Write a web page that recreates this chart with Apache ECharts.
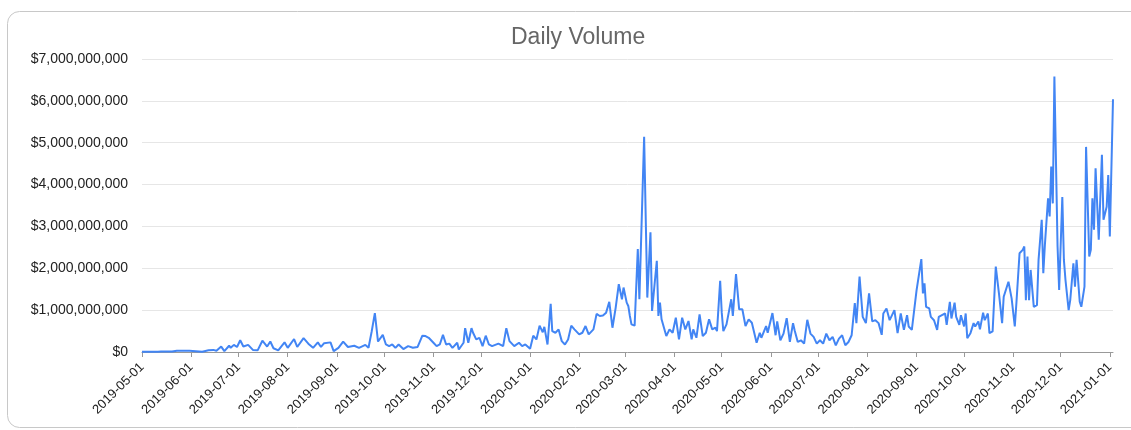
<!DOCTYPE html>
<html><head><meta charset="utf-8">
<script src="https://cdn.jsdelivr.net/npm/echarts@6/dist/echarts.min.js"></script>
<style>html,body{margin:0;padding:0;background:#fff}#c{width:1131px;height:430px}</style>
</head><body><div id="c"></div>
<script>
const dates = [
'2019-05-01','2019-05-11','2019-05-12','2019-05-13','2019-05-18','2019-05-19','2019-05-20','2019-05-23','2019-05-24','2019-05-26',
'2019-05-27','2019-05-29','2019-05-30','2019-05-31','2019-06-01','2019-06-08','2019-06-09','2019-06-12','2019-06-15','2019-06-17',
'2019-06-20','2019-06-22','2019-06-25','2019-06-26','2019-06-28','2019-06-30','2019-07-02','2019-07-04','2019-07-07','2019-07-10',
'2019-07-13','2019-07-16','2019-07-19','2019-07-21','2019-07-23','2019-07-26','2019-07-30','2019-08-01','2019-08-05','2019-08-07',
'2019-08-11','2019-08-14','2019-08-17','2019-08-20','2019-08-22','2019-08-24','2019-08-28','2019-08-30','2019-09-02','2019-09-05',
'2019-09-08','2019-09-12','2019-09-15','2019-09-19','2019-09-21','2019-09-23','2019-09-25','2019-09-27','2019-09-30','2019-10-02',
'2019-10-04','2019-10-06','2019-10-08','2019-10-10','2019-10-13','2019-10-16','2019-10-19','2019-10-22','2019-10-25','2019-10-27',
'2019-10-29','2019-11-01','2019-11-03','2019-11-05','2019-11-07','2019-11-09','2019-11-11','2019-11-13','2019-11-16','2019-11-17',
'2019-11-20','2019-11-21','2019-11-23','2019-11-25','2019-11-26','2019-11-28','2019-11-30','2019-12-02','2019-12-04','2019-12-06',
'2019-12-08','2019-12-12','2019-12-15','2019-12-17','2019-12-19','2019-12-22','2019-12-25','2019-12-27','2019-12-29','2020-01-01',
'2020-01-03','2020-01-05','2020-01-07','2020-01-09','2020-01-10','2020-01-12','2020-01-14','2020-01-15','2020-01-17','2020-01-19',
'2020-01-21','2020-01-23','2020-01-25','2020-01-27','2020-01-29','2020-02-01','2020-02-03','2020-02-05','2020-02-07','2020-02-10',
'2020-02-12','2020-02-14','2020-02-16','2020-02-18','2020-02-20','2020-02-22','2020-02-24','2020-02-25','2020-02-26','2020-02-28',
'2020-02-29','2020-03-01','2020-03-02','2020-03-03','2020-03-04','2020-03-05','2020-03-07','2020-03-09','2020-03-10','2020-03-13',
'2020-03-15','2020-03-17','2020-03-18','2020-03-21','2020-03-22','2020-03-23','2020-03-24','2020-03-27','2020-03-29','2020-03-31',
'2020-04-02','2020-04-04','2020-04-06','2020-04-08','2020-04-10','2020-04-12','2020-04-13','2020-04-15','2020-04-17','2020-04-19',
'2020-04-21','2020-04-23','2020-04-25','2020-04-27','2020-04-28','2020-04-30','2020-05-01','2020-05-02','2020-05-04','2020-05-07',
'2020-05-08','2020-05-10','2020-05-12','2020-05-14','2020-05-16','2020-05-18','2020-05-20','2020-05-23','2020-05-25','2020-05-26',
'2020-05-29','2020-05-30','2020-06-02','2020-06-04','2020-06-05','2020-06-07','2020-06-09','2020-06-11','2020-06-13','2020-06-15',
'2020-06-16','2020-06-18','2020-06-20','2020-06-22','2020-06-24','2020-06-26','2020-06-28','2020-06-30','2020-07-02','2020-07-04',
'2020-07-06','2020-07-08','2020-07-10','2020-07-12','2020-07-14','2020-07-16','2020-07-18','2020-07-20','2020-07-22','2020-07-24',
'2020-07-25','2020-07-27','2020-07-29','2020-07-31','2020-08-02','2020-08-04','2020-08-06','2020-08-08','2020-08-10','2020-08-11',
'2020-08-13','2020-08-15','2020-08-18','2020-08-20','2020-08-22','2020-08-24','2020-08-26','2020-08-27','2020-08-29','2020-09-01',
'2020-09-02','2020-09-04','2020-09-05','2020-09-06','2020-09-07','2020-09-09','2020-09-10','2020-09-12','2020-09-14','2020-09-15',
'2020-09-17','2020-09-19','2020-09-20','2020-09-22','2020-09-23','2020-09-25','2020-09-26','2020-09-28','2020-09-29','2020-10-01',
'2020-10-02','2020-10-03','2020-10-05','2020-10-07','2020-10-08','2020-10-10','2020-10-11','2020-10-13','2020-10-14','2020-10-16',
'2020-10-17','2020-10-19','2020-10-21','2020-10-23','2020-10-25','2020-10-26','2020-10-29','2020-10-31','2020-11-02','2020-11-03',
'2020-11-05','2020-11-07','2020-11-08','2020-11-09','2020-11-10','2020-11-11','2020-11-12','2020-11-14','2020-11-16','2020-11-17',
'2020-11-19','2020-11-20','2020-11-21','2020-11-23','2020-11-24','2020-11-25','2020-11-26','2020-11-27','2020-11-29','2020-11-30',
'2020-12-01','2020-12-02','2020-12-03','2020-12-04','2020-12-06','2020-12-07','2020-12-09','2020-12-10','2020-12-11','2020-12-13',
'2020-12-14','2020-12-16','2020-12-17','2020-12-19','2020-12-20','2020-12-21','2020-12-22','2020-12-23','2020-12-25','2020-12-26',
'2020-12-27','2020-12-28','2020-12-30','2020-12-31','2021-01-01','2021-01-03'
];
const volumesBillion = [
0.005,0.005,0.03,0.01,0.01,0.03,0.01,0.03,0.01,0.03,
0.01,0.03,0.01,0.03,0.005,0.005,0.05,0.04,0.05,0.03,
0.13,0.02,0.15,0.10,0.17,0.12,0.28,0.13,0.17,0.05,
0.04,0.27,0.13,0.25,0.09,0.04,0.23,0.10,0.31,0.12,
0.33,0.20,0.10,0.23,0.12,0.21,0.23,0.02,0.10,0.25,
0.12,0.15,0.10,0.17,0.10,0.49,0.93,0.25,0.41,0.18,
0.14,0.18,0.10,0.18,0.07,0.14,0.10,0.12,0.39,0.38,
0.34,0.22,0.14,0.18,0.41,0.18,0.20,0.10,0.22,0.06,
0.22,0.57,0.22,0.57,0.46,0.30,0.34,0.14,0.39,0.18,
0.14,0.20,0.14,0.57,0.26,0.14,0.22,0.14,0.18,0.08,
0.39,0.30,0.63,0.47,0.60,0.18,1.15,0.50,0.46,0.54,
0.26,0.18,0.30,0.63,0.54,0.42,0.46,0.62,0.42,0.54,
0.91,0.86,0.87,0.94,1.20,0.58,1.05,1.02,1.62,1.26,
1.54,1.58,1.18,1.10,0.86,0.66,0.63,2.46,1.26,5.14,
1.30,2.86,0.98,2.18,0.86,1.18,0.78,0.38,0.54,0.46,
0.82,0.30,0.82,0.54,0.74,0.30,0.54,0.34,0.90,0.38,
0.46,0.78,0.54,0.58,0.50,1.70,0.94,0.50,0.66,1.26,
0.86,1.86,1.02,1.02,0.62,0.78,0.70,0.22,0.46,0.34,
0.62,0.46,0.93,0.40,0.73,0.28,0.44,0.81,0.24,0.69,
0.52,0.24,0.28,0.20,0.77,0.44,0.36,0.20,0.28,0.20,
0.44,0.28,0.36,0.16,0.32,0.40,0.16,0.24,0.40,1.17,
0.69,1.80,0.84,0.69,1.40,0.73,0.76,0.69,0.41,0.92,
1.04,0.76,1.00,0.45,0.92,0.53,0.88,0.61,0.53,1.48,
1.48,2.22,1.40,1.64,1.08,1.04,0.84,0.76,0.53,0.84,
0.88,0.92,0.65,1.20,0.80,1.18,0.84,0.65,0.88,0.61,
0.92,0.33,0.45,0.69,0.61,0.73,0.54,0.94,0.76,0.92,
0.45,0.49,2.04,1.40,0.69,1.32,1.68,1.28,0.61,1.16,
2.36,2.44,2.52,1.24,2.28,1.24,1.96,1.08,1.12,2.20,
3.16,1.88,2.56,3.67,3.24,4.43,3.55,6.58,2.52,1.48,
1.48,3.70,2.20,1.72,1.00,1.24,2.12,1.56,2.20,1.20,
1.08,1.56,4.90,2.28,2.44,3.67,2.92,4.39,2.68,2.64,
4.71,3.16,3.47,4.23,2.76,6.04
];
const tickDates = ['2019-05-01','2019-06-01','2019-07-01','2019-08-01','2019-09-01','2019-10-01','2019-11-01','2019-12-01',
'2020-01-01','2020-02-01','2020-03-01','2020-04-01','2020-05-01','2020-06-01','2020-07-01','2020-08-01','2020-09-01',
'2020-10-01','2020-11-01','2020-12-01','2021-01-01'];
const axisStart = '2019-05-01', axisEnd = '2021-01-03';

function toTs(s){const p=s.split('-');return Date.UTC(+p[0],+p[1]-1,+p[2]);}
function pad(n){return (n<10?'0':'')+n;}
function fmtDate(v){const d=new Date(v);return d.getUTCFullYear()+'-'+pad(d.getUTCMonth()+1)+'-'+pad(d.getUTCDate());}
const seriesData = dates.map((d,i)=>[toTs(d), volumesBillion[i]*1e9]);
const tickTs = tickDates.map(toTs);
const FONT = 'Arial, "Liberation Sans", Helvetica, sans-serif';

const chart = echarts.init(document.getElementById('c'), null, {renderer:'canvas'});
chart.setOption({
  animation:false,
  backgroundColor:'#fff',
  title:{text:'Daily Volume',left:506,top:21,textStyle:{fontSize:23,fontWeight:'normal',color:'#666',fontFamily:FONT}},
  graphic:[{type:'rect',silent:true,z:-10,shape:{x:7.5,y:11.5,width:1200,height:416,r:12},style:{fill:'none',stroke:'#c8c8c8',lineWidth:1}}],
  grid:{left:142,right:18,top:59,bottom:78,containLabel:false},
  xAxis:{
    type:'value',min:toTs(axisStart),max:toTs(axisEnd),
    axisLine:{lineStyle:{color:'#999',width:1}},
    axisTick:{show:true,customValues:tickTs,length:5,lineStyle:{color:'#999'}},
    axisLabel:{customValues:tickTs,formatter:fmtDate,rotate:45,fontSize:13,color:'#222',margin:13,fontFamily:FONT},
    splitLine:{show:false}
  },
  yAxis:{
    type:'value',min:0,max:7e9,interval:1e9,
    axisLine:{show:false},axisTick:{show:false},
    axisLabel:{formatter:v=>'$'+v.toLocaleString('en-US'),fontSize:14,color:'#222',margin:14,fontFamily:FONT},
    splitLine:{lineStyle:{color:'#e6e6e6',width:1}}
  },
  series:[{type:'line',data:seriesData,showSymbol:false,symbol:'none',lineStyle:{color:'#4285f4',width:2},itemStyle:{color:'#4285f4'}}]
});
</script></body></html>
